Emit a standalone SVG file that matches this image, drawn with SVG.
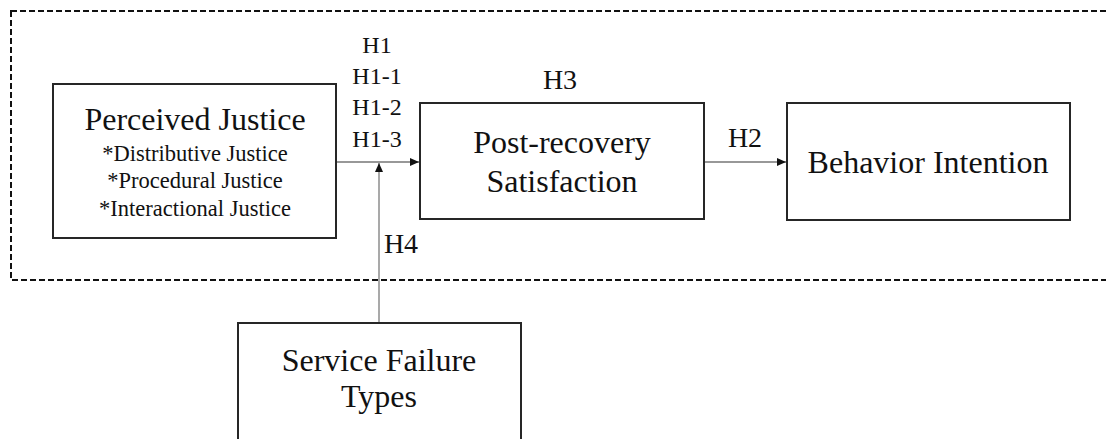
<svg xmlns="http://www.w3.org/2000/svg" width="1106" height="439" viewBox="0 0 1106 439">
<style>
.box{fill:#fff;stroke:#262626;stroke-width:2}
.t{font-family:"Liberation Serif","Times New Roman",serif;fill:#111;text-anchor:middle}
.big{font-size:32px}
.sub{font-size:22.5px}
.lab{font-size:28px}
.hl{font-size:24px}
.conn{stroke:#333;stroke-width:1.2;fill:none}
</style>
<defs>
<marker id="ah" markerWidth="10" markerHeight="10" refX="9" refY="5" orient="auto" markerUnits="userSpaceOnUse">
<path d="M0,1 L9,5 L0,9 Z" fill="#111"/>
</marker>
</defs>
<rect x="11" y="11" width="1120" height="269" fill="none" stroke="#111" stroke-width="2" stroke-dasharray="6 3"/>
<g id="connectors">
<line class="conn" x1="336" y1="162" x2="419" y2="162" marker-end="url(#ah)"/>
<line class="conn" x1="704" y1="162" x2="786" y2="162" marker-end="url(#ah)"/>
<line x1="379" y1="323" x2="379" y2="163" stroke="#8c8c8c" stroke-width="1.5" marker-end="url(#ah)"/>
</g>
<g id="labels">
<text class="t hl" x="377" y="53">H1</text>
<text class="t hl" x="377" y="84">H1-1</text>
<text class="t hl" x="377" y="115">H1-2</text>
<text class="t hl" x="377" y="147">H1-3</text>
<text class="t lab" x="560" y="89">H3</text>
<text class="t lab" x="745" y="147">H2</text>
<text class="t lab" x="401" y="253">H4</text>
</g>
<g id="perceived-justice">
<rect class="box" x="53" y="84" width="283" height="154"/>
<text class="t big" x="195" y="130">Perceived Justice</text>
<text class="t sub" x="195" y="161">*Distributive Justice</text>
<text class="t sub" x="195" y="188">*Procedural Justice</text>
<text class="t sub" x="195" y="216">*Interactional Justice</text>
</g>
<g id="post-recovery">
<rect class="box" x="420" y="103" width="284" height="116"/>
<text class="t big" x="562" y="153">Post-recovery</text>
<text class="t big" x="562" y="192">Satisfaction</text>
</g>
<g id="behavior-intention">
<rect class="box" x="787" y="103" width="283" height="117"/>
<text class="t big" x="928" y="173">Behavior Intention</text>
</g>
<g id="service-failure">
<rect class="box" x="238" y="323" width="283" height="130"/>
<text class="t big" x="379" y="371">Service Failure</text>
<text class="t big" x="379" y="407">Types</text>
</g>
</svg>
